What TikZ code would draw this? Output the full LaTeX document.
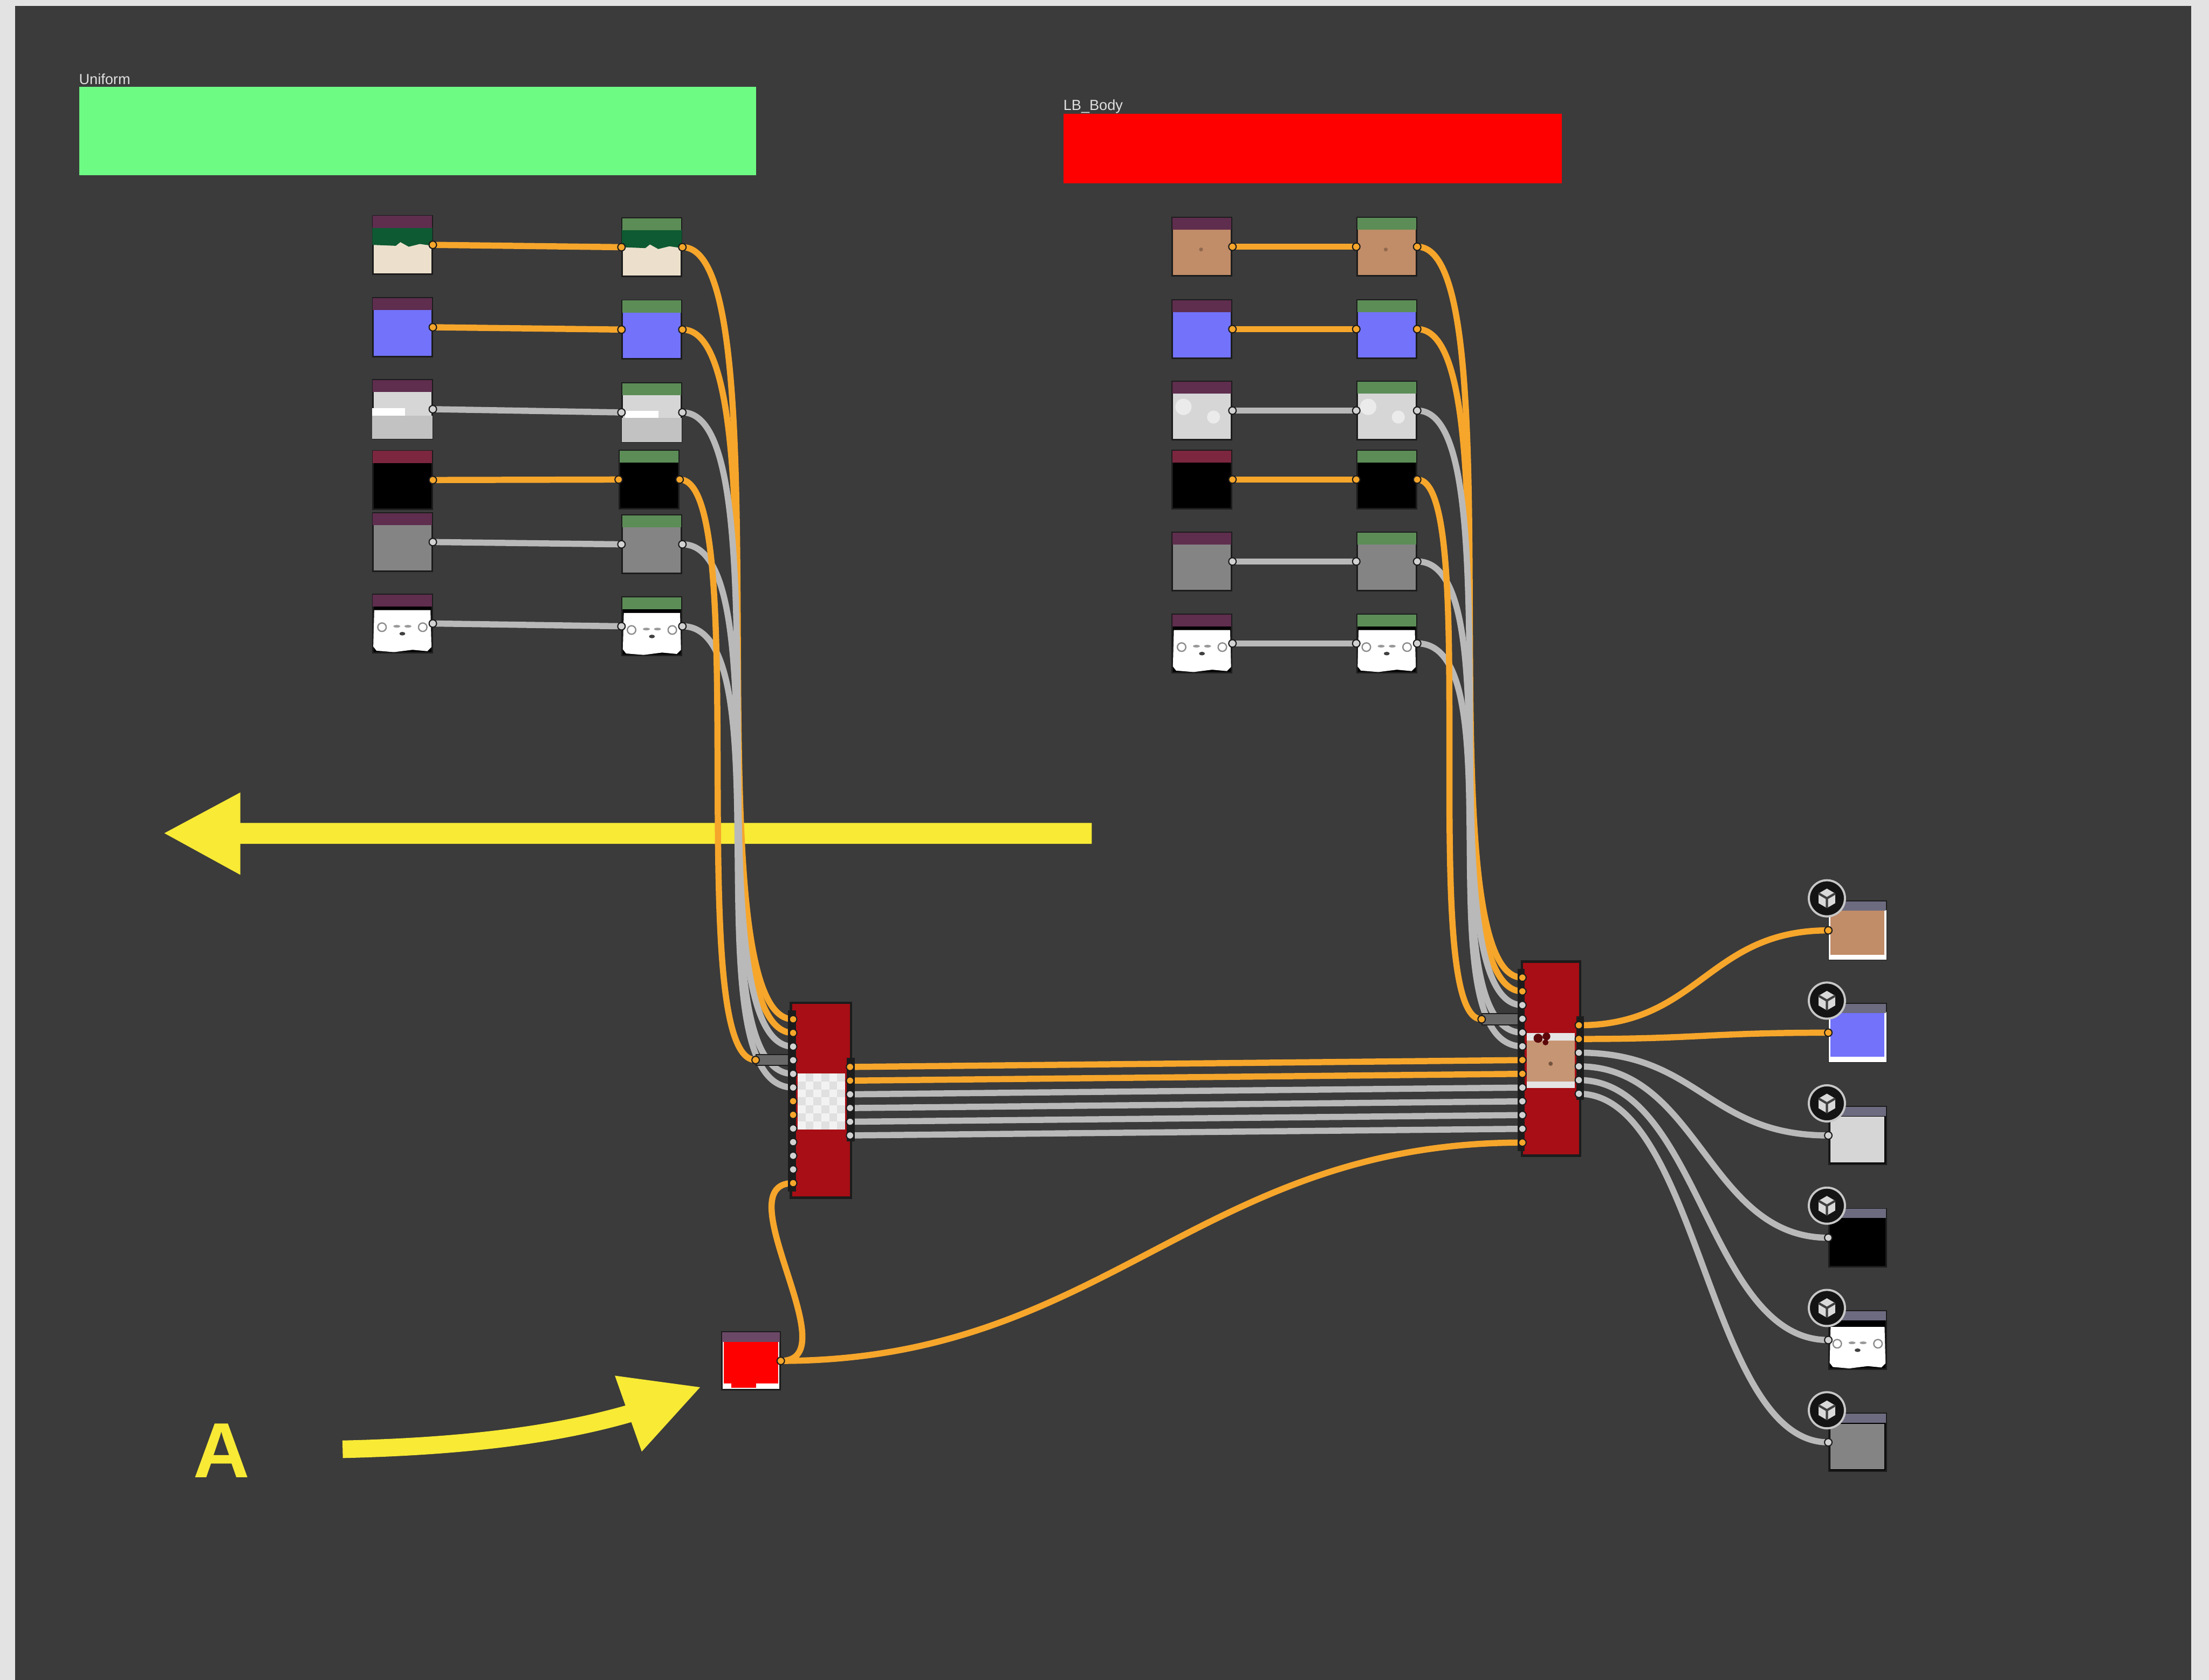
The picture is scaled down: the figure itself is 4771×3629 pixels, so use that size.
\documentclass[tikz,border=0pt]{standalone}
\usepackage{fontspec}
\setmainfont{Liberation Sans}
\usetikzlibrary{calc}

\definecolor{outerbg}{HTML}{E3E3E3}
\definecolor{panel}{HTML}{3B3B3B}
\definecolor{uniformgreen}{HTML}{6EFB84}
\definecolor{bodyred}{HTML}{FE0000}
\definecolor{wireo}{HTML}{F6A62B}
\definecolor{wireg}{HTML}{B9B9B9}
\definecolor{portg}{HTML}{D2D2D2}
\definecolor{edge}{HTML}{1C1C1C}
\definecolor{hdin}{HTML}{5F2D4E}
\definecolor{hdinred}{HTML}{7C2640}
\definecolor{hdout}{HTML}{5C8D57}
\definecolor{hdres}{HTML}{6D6B80}
\definecolor{hdcol}{HTML}{6B4866}
\definecolor{mergered}{HTML}{A80E15}
\definecolor{skin}{HTML}{C18C68}
\definecolor{nrm}{HTML}{7272FA}
\definecolor{rough}{HTML}{D6D6D6}
\definecolor{roughlow}{HTML}{C2C2C2}
\definecolor{midgrey}{HTML}{848484}
\definecolor{fabric}{HTML}{0E5A32}
\definecolor{cream}{HTML}{ECE0CC}
\definecolor{marker}{HTML}{F8EA35}
\definecolor{convgrey}{HTML}{686868}

\pgfdeclarelayer{back}
\pgfdeclarelayer{links}
\pgfsetlayers{back,links,main}

\tikzset{
  thumb/.style={draw=edge, line width=1pt, fill=#1, inner sep=0pt,
    minimum width=1.28cm, minimum height=1.26cm},
  mergebox/.style={draw=edge, line width=1.5pt, fill=mergered, inner sep=0pt},
  convbar/.style={fill=convgrey, draw=edge, line width=0.6pt, inner sep=0pt,
    minimum height=0.24cm, anchor=west},
  orangewire/.style={draw=wireo, line width=3.8pt},
  greywire/.style={draw=wireg, line width=3.8pt},
  grplabel/.style={text=black!12, font=\fontsize{9}{10}\selectfont, inner sep=0pt},
}

% header strip on top of a map node
\newcommand\hdr[3][0.28cm]{%
  \fill[#3] ([xshift=0.6pt,yshift=-0.6pt]#2.north west) rectangle ([xshift=-0.6pt,yshift=-#1]#2.north east);}
\newcommand\portdot[2]{\filldraw[fill=#2, draw=edge, line width=0.7pt] (#1) circle[radius=2.3pt];}
% white ao face on black
\newcommand\facemap[1]{%
  \fill[white] ($(#1.north west)+(5,36)$) -- ($(#1.north east)+(-5,36)$) -- ($(#1.south east)+(-3,-14)$)
    -- ($(#1.south east)+(-12,-5)$) -- ($(#1.south)+(22,-8)$) -- ($(#1.south)+(-18,-3)$)
    -- ($(#1.south west)+(10,-6)$) -- ($(#1.south west)+(3,-15)$) -- cycle;
  \draw[black!45, line width=0.8pt] ($(#1.center)+(-44,8)$) circle[radius=2.6pt] ($(#1.center)+(44,8)$) circle[radius=2.6pt];
  \fill[black!40] ($(#1.center)+(-12,6)$) ellipse[x radius=2.2pt, y radius=0.8pt] ($(#1.center)+(12,6)$) ellipse[x radius=2.2pt, y radius=0.8pt];
  \fill[black!75] ($(#1.center)+(0,22)$) ellipse[x radius=1.8pt, y radius=1.1pt];}

\begin{document}
\begin{tikzpicture}[x=0.01cm,y=-0.01cm]
\useasboundingbox (0,0) rectangle (4771,3629);

% canvas, frames and markers
\begin{pgfonlayer}{back}
  \fill[outerbg] (0,0) rectangle (4771,3629);
  \fill[panel] (33,13) rectangle (4733,3629);
  \node[fill=uniformgreen, inner sep=0pt, minimum width=14.61cm, minimum height=1.91cm, anchor=north west] (uniform) at (170,187) {};
  \node[fill=bodyred, inner sep=0pt, minimum width=10.76cm, minimum height=1.50cm, anchor=north west] (lbbody) at (2296,245) {};
  \node[grplabel, anchor=base west] (uniformlbl) at ([yshift=1.4pt]uniform.north west) {Uniform};
  \node[grplabel, anchor=base west] (lbbodylbl) at ([yshift=2pt]lbbody.north west) {LB\_Body};
  \fill[marker] (2358,1778) -- (519,1778) -- (519,1712) -- (355,1800) -- (519,1890) -- (519,1823) -- (2358,1823) -- cycle;
  \draw[marker, line width=10.8pt] (740,3131) .. controls (1000,3125) and (1200,3100) .. (1362,3053);
  \fill[marker] (1512,2997) -- (1328,2972) -- (1386,3136) -- cycle;
  \node[text=marker, font=\fontsize{48}{50}\selectfont\bfseries, inner sep=0pt] (marka) at (478,3134) {A};
\end{pgfonlayer}

% Uniform maps
\foreach \n/\y/\c in {1/529/cream,2/707/nrm,3/884/rough,4/1037/black,5/1171/midgrey,6/1347/black}
  \node[thumb=\c] (u\n) at (869,\y) {};
\foreach \n/\x/\y/\c in {1/1408/534/cream,2/1408/712/nrm,3/1408/891/rough,4/1402/1036/black,5/1408/1176/midgrey,6/1408/1353/black}
  \node[thumb=\c] (v\n) at (\x,\y) {};
\foreach \m in {u1,v1}
  \fill[fabric] ($(\m.north west)+(1,27)$) -- ($(\m.north east)+(-1,27)$) -- ($(\m.east)+(-1,2)$) -- ($(\m.east)+(-28,-2)$)
    -- ($(\m.east)+(-52,4)$) -- ($(\m.east)+(-70,-6)$) -- ($(\m.east)+(-80,2)$) -- ($(\m.west)+(1,0)$) -- cycle;
\fill[roughlow] ($(u3.west)+(1,14)$) rectangle ($(u3.south east)+(-1,-1)$);
\fill[white] ($(u3.west)+(1,-2)$) rectangle ($(u3.west)+(72,14)$);
\fill[roughlow] ($(v3.west)+(1,12)$) rectangle ($(v3.south east)+(-1,-1)$);
\fill[white] ($(v3.west)+(8,-4)$) rectangle ($(v3.west)+(80,12)$);
\facemap{u6}
\facemap{v6}
\foreach \m in {u1,u2,u3,u5,u6} \hdr{\m}{hdin};
\hdr{u4}{hdinred}
\foreach \n in {1,...,6} \hdr{v\n}{hdout};

% LB_Body maps
\foreach \n/\y/\c in {1/533/skin,2/711/nrm,3/887/rough,4/1036/black,5/1213/midgrey,6/1390/black} {
  \node[thumb=\c] (b\n) at (2596,\y) {};
  \node[thumb=\c] (c\n) at (2995,\y) {};
}
\foreach \m in {b3,c3}
  \fill[white!92!black] ($(\m.center)+(-40,-8)$) circle[radius=5pt] ($(\m.center)+(25,14)$) circle[radius=4pt];
\foreach \m in {b1,c1}
  \fill[skin!75!black] ($(\m.center)+(-2,6)$) circle[radius=1.2pt];
\facemap{b6}
\facemap{c6}
\foreach \m in {b1,b2,b3,b5,b6} \hdr{\m}{hdin};
\hdr{b4}{hdinred}
\foreach \n in {1,...,6} \hdr{c\n}{hdout};

% flat red colour
\node[thumb=white, minimum width=1.25cm, minimum height=1.25cm] (flat) at (1622,2940) {};
\fill[bodyred] ($(flat.north west)+(5,24)$) rectangle ($(flat.south east)+(-5,-16)$);
\fill[bodyred] ($(flat.south west)+(22,-17)$) rectangle ($(flat.south west)+(75,-6)$);
\hdr[0.23cm]{flat}{hdcol}

% converters in front of the merge inputs
\node[convbar, minimum width=0.79cm] (conv1) at (1632,2290) {};
\node[convbar, minimum width=0.84cm] (conv2) at (3200,2202) {};

% merge nodes
\node[mergebox, minimum width=1.30cm, minimum height=4.21cm] (m1) at (1773,2377) {};
\node[mergebox, minimum width=1.26cm, minimum height=4.19cm] (m2) at (3350,2287) {};
\fill[edge] ($(m1.north west)+(-4,19)$) rectangle ($(m1.south west)+(14,-16)$);
\fill[edge] ($(m1.north east)+(-12,122)$) rectangle ($(m1.north east)+(5,302)$);
\fill[edge] ($(m2.north west)+(-7,18)$) rectangle ($(m2.south west)+(9,-13)$);
\fill[edge] ($(m2.north east)+(-11,121)$) rectangle ($(m2.north east)+(5,301)$);
\fill[white!95!black] (1723,2319) rectangle (1825,2440);
\begin{scope}
  \clip (1723,2319) rectangle (1825,2440);
  \foreach \i in {0,...,5} \foreach \j in {0,...,6} {
    \pgfmathparse{int(mod(\i+\j,2))}
    \ifnum\pgfmathresult=1 \fill[black!12] ({1723+17*\i},{2319+17.3*\j}) rectangle ++(17,17.3);\fi
  }
\end{scope}
\fill[white!90!black] (3297,2232) rectangle (3401,2350);
\fill[skin!92!white] (3297,2248) rectangle (3401,2337);
\fill[mergered!55!black] (3322,2243) circle[radius=2.8pt] (3340,2239) circle[radius=2.4pt] (3338,2252) circle[radius=1.8pt];
\fill[skin!60!black] (3349,2298) circle[radius=1.3pt];

% output maps
\foreach \n/\y/\c in {1/2010/skin,2/2231/nrm,3/2453/black,4/2674/black,5/2895/black,6/3116/black}
  \node[thumb=\c, minimum width=1.23cm, minimum height=1.25cm] (o\n) at (4012,\y) {};
\foreach \m in {o1,o2} {
  \fill[white] ($(\m.south west)+(1,-12)$) rectangle ($(\m.south east)+(-1,-1)$);
  \fill[white] ($(\m.north west)+(1,20)$) rectangle ($(\m.south west)+(5,-1)$);
  \fill[white] ($(\m.north east)+(-5,20)$) rectangle ($(\m.south east)+(-1,-1)$);
}
\fill[rough] ($(o3.north west)+(5,24)$) rectangle ($(o3.south east)+(-5,-6)$);
\fill[midgrey] ($(o6.north west)+(5,24)$) rectangle ($(o6.south east)+(-5,-6)$);
\facemap{o5}
\foreach \n in {1,...,6} \hdr[0.22cm]{o\n}{hdres};

% merge ports
\foreach \i in {1,...,13} {
  \coordinate (a\i) at (1713,{2202+29.5*(\i-1)});
  \coordinate (bi\i) at (3288,{2112+29.7*(\i-1)});
}
\foreach \j in {1,...,6} {
  \coordinate (ao\j) at (1836,{2305+29.6*(\j-1)});
  \coordinate (bo\j) at (3410,{2215+29.6*(\j-1)});
}

% links
\begin{pgfonlayer}{links}
  \foreach \n/\s in {1/orangewire,2/orangewire,3/greywire,4/orangewire,5/greywire,6/greywire} {
    \draw[\s] (u\n.east) -- (v\n.west);
    \draw[\s] (b\n.east) -- (c\n.west);
  }
  \foreach \n/\s in {1/orangewire,2/orangewire,3/greywire,5/greywire,6/greywire} {
    \draw[\s] (v\n.east) .. controls +(230,0) and +(-230,0) .. (a\n);
    \draw[\s] (c\n.east) .. controls +(220,0) and +(-220,0) .. (bi\n);
  }
  \draw[orangewire] (v4.east) .. controls +(160,0) and +(-160,0) .. (conv1.west);
  \draw[orangewire] (c4.east) .. controls +(140,0) and +(-140,0) .. (conv2.west);
  \foreach \j/\s in {1/orangewire,2/orangewire,3/greywire,4/greywire,5/greywire,6/greywire} {
    \pgfmathtruncatemacro\k{\j+6}
    \draw[\s] (ao\j) -- (bi\k);
    \draw[\s] (bo\j) .. controls +(260,0) and +(-260,0) .. (o\j.west);
  }
  \draw[orangewire] (flat.east) .. controls +(150,0) and +(-150,0) .. (a13);
  \draw[orangewire] (flat.east) .. controls +(700,0) and +(-700,0) .. (bi13);
\end{pgfonlayer}

% port dots
\foreach \n/\c in {1/wireo,2/wireo,3/portg,4/wireo,5/portg,6/portg} {
  \portdot{u\n.east}{\c} \portdot{v\n.west}{\c} \portdot{v\n.east}{\c}
  \portdot{b\n.east}{\c} \portdot{c\n.west}{\c} \portdot{c\n.east}{\c}
}
\foreach \i/\c in {1/wireo,2/wireo,3/portg,4/portg,5/portg,6/portg,7/wireo,8/wireo,9/portg,10/portg,11/portg,12/portg,13/wireo} {
  \portdot{a\i}{\c} \portdot{bi\i}{\c}
}
\foreach \j/\c in {1/wireo,2/wireo,3/portg,4/portg,5/portg,6/portg} {
  \portdot{ao\j}{\c} \portdot{bo\j}{\c} \portdot{o\j.west}{\c}
}
\portdot{flat.east}{wireo}
\portdot{conv1.west}{wireo}
\portdot{conv2.west}{wireo}

% output icons
\foreach \n in {1,...,6} {
  \coordinate (ic\n) at ($(o\n.north west)+(-3,-5)$);
  \filldraw[fill=black!92, draw=black!22, line width=1.3pt] (ic\n) circle[radius=0.39cm];
  \fill[black!15] ($(ic\n)+(0,-21)$) -- ++(18,10.5) -- ++(0,21) -- ++(-18,10.5) -- ++(-18,-10.5) -- ++(0,-21) -- cycle;
  \draw[black!75, line width=1.4pt] ($(ic\n)+(-18,-10.5)$) -- (ic\n) -- ($(ic\n)+(18,-10.5)$) (ic\n) -- ($(ic\n)+(0,21)$);
}
\end{tikzpicture}
\end{document}
